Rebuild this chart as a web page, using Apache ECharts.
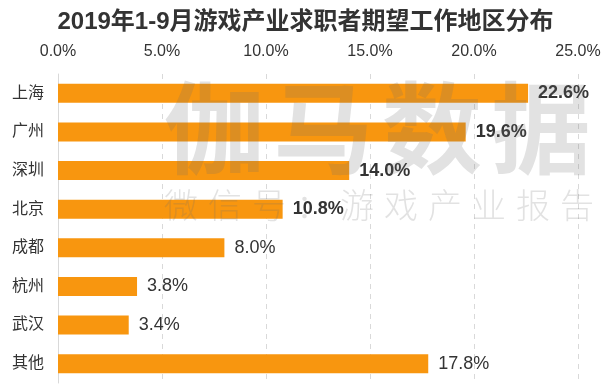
<!DOCTYPE html>
<html><head><meta charset="utf-8">
<script src="https://cdn.jsdelivr.net/npm/echarts@6/dist/echarts.min.js"></script>
<style>html,body{margin:0;padding:0;background:#fff}#c{width:611px;height:391px}</style>
</head><body><div id="c"></div>
<script>
var categories = ['上海','广州','深圳','北京','成都','杭州','武汉','其他'];
var values = [22.6, 19.6, 14.0, 10.8, 8.0, 3.8, 3.4, 17.8];
var boldLabels = [true, true, true, true, false, false, false, false];
var tickLabels = ['0.0%','5.0%','10.0%','15.0%','20.0%','25.0%'];
var titleText = '2019年1-9月游戏产业求职者期望工作地区分布';
var wm1 = ['伽','马','数','据'];
var wm2 = ['微','信','号','：','游','戏','产','业','报','告'];

var FONT = '"Liberation Sans", Arial, "Noto Sans CJK SC", sans-serif';
var chart = echarts.init(document.getElementById('c'), null, {renderer:'canvas'});

var graphics = [];
wm1.forEach(function(ch, i){
  graphics.push({type:'text', z:100, left: 164 + i*109, top: 78,
    style:{text: ch, font: 'bold 100px "Noto Sans CJK SC"', fill:'rgba(110,110,110,0.2)'}});
});
wm2.forEach(function(ch, i){
  graphics.push({type:'text', z:100, left: 164 + i*44, top: 188,
    style:{text: ch, font: '300 34px "Noto Sans CJK SC"', fill:'rgba(110,110,110,0.2)'}});
});

chart.setOption({
  animation:false,
  title:{text:titleText, left:'center', top:5,
    textStyle:{fontFamily:FONT, fontSize:24, fontWeight:'bold', color:'#333'}},
  grid:{left:58, right:33, top:74, bottom:8, containLabel:false},
  xAxis:{type:'value', position:'top', min:0, max:25, interval:5,
    axisLine:{show:false}, axisTick:{show:false},
    axisLabel:{fontFamily:FONT, fontSize:16, color:'#333', margin:14,
      formatter:function(v){return tickLabels[Math.round(v/5)];}},
    splitLine:{show:true, lineStyle:{type:[5,5], color:'#d9d9d9', width:1}}},
  yAxis:{type:'category', inverse:true, data:categories,
    axisLine:{show:true, lineStyle:{color:'#d9d9d9'}}, axisTick:{show:false},
    axisLabel:{fontFamily:FONT, fontSize:16, color:'#333', margin:14}},
  series:[{type:'bar', barWidth:19,
    data: values.map(function(v,i){
      return {value:v, label:{fontWeight: boldLabels[i]?'bold':'normal'}};
    }),
    itemStyle:{color:'#F8960F'},
    label:{show:true, position:'right', distance:10, fontFamily:FONT, fontSize:18, color:'#333',
      formatter:function(p){return p.value.toFixed(1)+'%';}}}],
  graphic: graphics
});
</script></body></html>
